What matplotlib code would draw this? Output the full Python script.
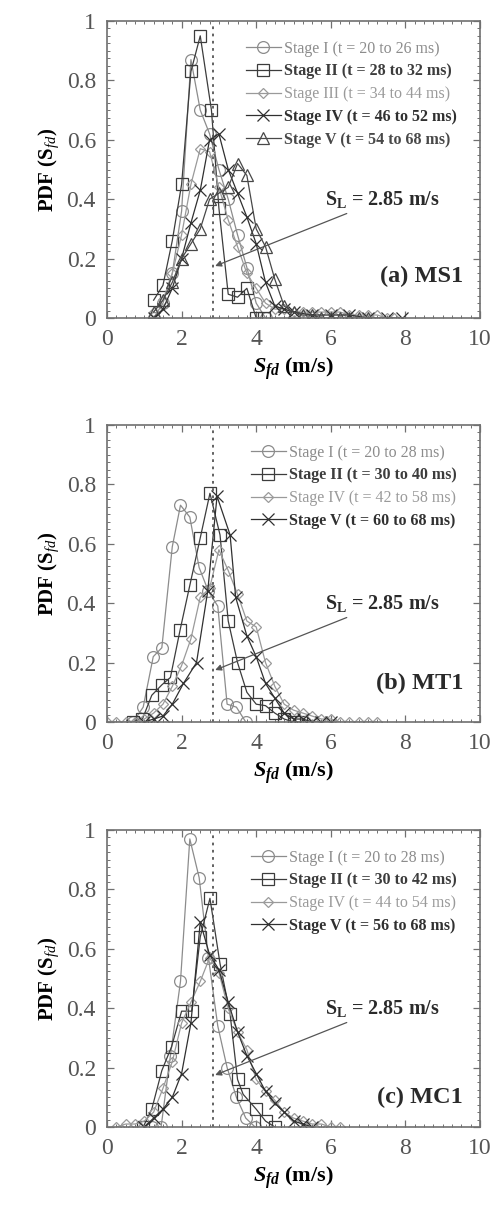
import matplotlib
matplotlib.use("Agg")
import matplotlib.pyplot as plt
from matplotlib.ticker import MultipleLocator, FormatStrFormatter

plt.rcParams['font.family'] = ['Liberation Serif', 'DejaVu Serif']
plt.rcParams['mathtext.fontset'] = 'custom'
plt.rcParams['mathtext.rm'] = 'Liberation Serif'
plt.rcParams['mathtext.it'] = 'Liberation Serif:italic'
plt.rcParams['mathtext.bf'] = 'Liberation Serif:bold'
plt.rcParams['mathtext.bfit'] = 'Liberation Serif:bold:italic'

# ---------------- Panel (a) MS1 ----------------
a_labels = ["Stage I (t = 20 to 26 ms)", "Stage II (t = 28 to 32 ms)",
            "Stage III (t = 34 to 44 ms)", "Stage IV (t = 46 to 52 ms)",
            "Stage V (t = 54 to 68 ms)"]
a1_x = [1.25, 1.5, 1.75, 2.0, 2.25, 2.5, 2.75, 3.0, 3.25, 3.5, 3.75, 4.0, 4.25]
a1_y = [0.0, 0.05, 0.15, 0.36, 0.87, 0.70, 0.62, 0.50, 0.40, 0.28, 0.17, 0.05, 0.0]
a2_x = [1.25, 1.5, 1.75, 2.0, 2.25, 2.5, 2.8, 3.0, 3.25, 3.5, 3.75, 4.0, 4.2]
a2_y = [0.06, 0.11, 0.26, 0.45, 0.83, 0.95, 0.70, 0.37, 0.08, 0.07, 0.10, 0.0, 0.0]
a3_x = [1.25, 1.5, 1.75, 2.0, 2.25, 2.5, 2.75, 3.0, 3.25, 3.5, 3.75, 4.0, 4.25, 4.5,
        4.75, 5.0, 5.25, 5.5, 5.75, 6.0, 6.25, 6.5, 6.75, 7.0, 7.25, 7.5, 7.7]
a3_y = [0.02, 0.06, 0.15, 0.28, 0.45, 0.57, 0.56, 0.44, 0.33, 0.24, 0.15, 0.10, 0.05, 0.03,
        0.03, 0.02, 0.02, 0.02, 0.02, 0.02, 0.02, 0.01, 0.01, 0.01, 0.01, 0.0, 0.0]
a4_x = [1.25, 1.5, 1.75, 2.0, 2.25, 2.5, 2.75, 3.0, 3.25, 3.5, 3.75, 4.0, 4.25, 4.5,
        4.75, 5.0, 5.5, 6.0, 6.5, 7.0, 7.5, 7.9]
a4_y = [0.0, 0.03, 0.10, 0.20, 0.32, 0.43, 0.60, 0.62, 0.50, 0.42, 0.34, 0.25, 0.12, 0.04,
        0.03, 0.02, 0.01, 0.01, 0.01, 0.0, 0.0, 0.0]
a5_x = [1.25, 1.5, 1.75, 2.0, 2.25, 2.5, 2.75, 3.0, 3.25, 3.5, 3.75, 4.0, 4.25, 4.5,
        4.75, 5.0, 5.25, 5.5, 5.75, 6.0, 6.25, 6.5, 6.75, 7.0]
a5_y = [0.02, 0.06, 0.12, 0.20, 0.25, 0.30, 0.40, 0.42, 0.44, 0.52, 0.48, 0.30, 0.24, 0.13,
        0.04, 0.02, 0.01, 0.01, 0.0, 0.0, 0.0, 0.0, 0.0, 0.0]

# ---------------- Panel (b) MT1 ----------------
b_labels = ["Stage I (t = 20 to 28 ms)", "Stage II (t = 30 to 40 ms)",
            "Stage IV (t = 42 to 58 ms)", "Stage V (t = 60 to 68 ms)"]
b1_x = [0.7, 0.97, 1.24, 1.47, 1.75, 1.97, 2.22, 2.47, 2.72, 2.97, 3.22, 3.47, 3.72]
b1_y = [0.0, 0.05, 0.22, 0.25, 0.59, 0.73, 0.69, 0.52, 0.44, 0.39, 0.06, 0.05, 0.0]
b2_x = [0.7, 0.95, 1.2, 1.47, 1.7, 1.96, 2.22, 2.5, 2.76, 3.03, 3.25, 3.5, 3.75, 4.0,
        4.25, 4.5, 4.75, 5.0, 5.2]
b2_y = [0.0, 0.01, 0.09, 0.125, 0.15, 0.31, 0.46, 0.62, 0.77, 0.63, 0.34, 0.20, 0.10, 0.06,
        0.055, 0.03, 0.01, 0.0, 0.0]
b3_x = [0.0, 0.25, 0.5, 0.75, 1.0, 1.25, 1.5, 1.75, 2.0, 2.25, 2.5, 2.75, 3.0, 3.25, 3.5,
        3.75, 4.0, 4.25, 4.5, 4.75, 5.0, 5.25, 5.5, 5.75, 6.0, 6.25, 6.5, 6.75, 7.0, 7.25]
b3_y = [0.0, 0.0, 0.0, 0.0, 0.01, 0.03, 0.06, 0.12, 0.19, 0.28, 0.42, 0.45, 0.58, 0.51, 0.43,
        0.34, 0.32, 0.20, 0.12, 0.06, 0.04, 0.03, 0.02, 0.01, 0.01, 0.0, 0.0, 0.0, 0.0, 0.0]
b4_x = [1.0, 1.25, 1.5, 1.75, 2.05, 2.4, 2.7, 2.95, 3.3, 3.45, 3.75, 4.0, 4.25, 4.5,
        4.75, 5.0, 5.25, 5.5, 5.75, 6.0]
b4_y = [0.0, 0.01, 0.02, 0.06, 0.13, 0.20, 0.44, 0.76, 0.63, 0.42, 0.29, 0.22, 0.13, 0.08,
        0.03, 0.01, 0.01, 0.0, 0.0, 0.0]

# ---------------- Panel (c) MC1 ----------------
c_labels = ["Stage I (t = 20 to 28 ms)", "Stage II (t = 30 to 42 ms)",
            "Stage IV (t = 44 to 54 ms)", "Stage V (t = 56 to 68 ms)"]
c1_x = [1.2, 1.45, 1.7, 1.97, 2.22, 2.47, 2.72, 2.97, 3.22, 3.47, 3.72, 3.97]
c1_y = [0.0, 0.0, 0.24, 0.49, 0.97, 0.84, 0.57, 0.34, 0.20, 0.10, 0.03, 0.0]
c2_x = [0.97, 1.2, 1.47, 1.73, 2.0, 2.27, 2.5, 2.76, 3.03, 3.3, 3.5, 3.65, 4.0, 4.25, 4.5]
c2_y = [0.0, 0.06, 0.19, 0.27, 0.39, 0.39, 0.64, 0.77, 0.55, 0.38, 0.16, 0.11, 0.06, 0.02, 0.0]
c3_x = [0.25, 0.5, 0.75, 1.0, 1.25, 1.5, 1.75, 2.0, 2.25, 2.5, 2.75, 3.0, 3.25, 3.5, 3.75,
        4.0, 4.25, 4.5, 4.75, 5.0, 5.25, 5.5, 5.75, 6.0, 6.25]
c3_y = [0.0, 0.01, 0.01, 0.02, 0.05, 0.13, 0.22, 0.35, 0.42, 0.49, 0.57, 0.52, 0.40, 0.32, 0.26,
        0.16, 0.12, 0.09, 0.05, 0.03, 0.02, 0.01, 0.01, 0.0, 0.0]
c4_x = [1.0, 1.25, 1.5, 1.75, 2.0, 2.25, 2.5, 2.75, 3.0, 3.25, 3.5, 3.75, 4.0, 4.25, 4.5,
        4.75, 5.0, 5.25, 5.5]
c4_y = [0.0, 0.03, 0.06, 0.10, 0.18, 0.35, 0.69, 0.58, 0.53, 0.42, 0.32, 0.24, 0.18, 0.12, 0.08,
        0.05, 0.02, 0.01, 0.0]

SL = 2.85

styles = {
    'I':   dict(marker='o', color='#8c8c8c', ms=8.5, bold=False),
    'II':  dict(marker='s', color='#3c3c3c', ms=8.5, bold=True),
    'III': dict(marker='D', color='#9a9a9a', ms=5.5, bold=False),
    'IV':  dict(marker='x', color='#303030', ms=9, bold=True),
    'V':   dict(marker='^', color='#484848', ms=8.5, bold=True),
}

panels = [
    dict(bottom=1 - 318 / 1206, tag='(a) MS1', tagy=0.14,
         series=[(a1_x, a1_y, 'I', a_labels[0]), (a2_x, a2_y, 'II', a_labels[1]),
                 (a3_x, a3_y, 'III', a_labels[2]), (a4_x, a4_y, 'IV', a_labels[3]),
                 (a5_x, a5_y, 'V', a_labels[4])]),
    dict(bottom=1 - 722 / 1206, tag='(b) MT1', tagy=0.13,
         series=[(b1_x, b1_y, 'I', b_labels[0]), (b2_x, b2_y, 'II', b_labels[1]),
                 (b3_x, b3_y, 'III', b_labels[2]), (b4_x, b4_y, 'IV', b_labels[3])]),
    dict(bottom=1 - 1127 / 1206, tag='(c) MC1', tagy=0.10,
         series=[(c1_x, c1_y, 'I', c_labels[0]), (c2_x, c2_y, 'II', c_labels[1]),
                 (c3_x, c3_y, 'III', c_labels[2]), (c4_x, c4_y, 'IV', c_labels[3])]),
]

fig = plt.figure(figsize=(4.99, 12.06), dpi=100)
axcol = '#707070'
ticklab = '#555555'

for p in panels:
    ax = fig.add_axes([107 / 499, p['bottom'], 373 / 499, 297 / 1206])
    handles = []
    bolds = []
    for xs, ys, key, lab in p['series']:
        st = styles[key]
        ln, = ax.plot(xs, ys, marker=st['marker'], color=st['color'], ms=st['ms'],
                      mfc='none', mec=st['color'], mew=0.9, lw=0.9, label=lab)
        handles.append(ln)
        bolds.append(st['bold'])
    ax.axvline(SL, color='#555555', ls=(0, (1.5, 2.5)), lw=1.3)
    ax.set_xlim(0, 10)
    ax.set_ylim(0, 1)
    ax.xaxis.set_major_locator(MultipleLocator(2))
    ax.xaxis.set_minor_locator(MultipleLocator(0.25))
    ax.yaxis.set_major_locator(MultipleLocator(0.2))
    ax.yaxis.set_minor_locator(MultipleLocator(0.025))
    ax.yaxis.set_major_formatter(FormatStrFormatter('%g'))
    ax.tick_params(which='both', direction='in', top=True, right=True,
                   color=axcol, labelcolor=ticklab, labelsize=17)
    ax.tick_params(which='major', length=5, width=0.9, pad=8)
    ax.tick_params(which='minor', length=2.5, width=0.7)
    for s in ax.spines.values():
        s.set_color(axcol)
        s.set_linewidth(1.2)
    ax.set_ylabel(r'PDF ($\mathbf{S}_{\mathit{fd}}$)', fontsize=15, fontweight='bold',
                  labelpad=4)
    ax.set_xlabel(r'$\mathbfit{S}_{\mathbfit{fd}}$ (m/s)', fontsize=16, fontweight='bold',
                  labelpad=4)
    leg = ax.legend(handles=handles, loc='upper right', bbox_to_anchor=(0.955, 0.955),
                    frameon=False, prop=dict(size=11.5, weight='bold'),
                    handlelength=2.2, handletextpad=0.2, labelspacing=0.42,
                    borderaxespad=0)
    for txt, h, b in zip(leg.get_texts(), handles, bolds):
        txt.set_color(h.get_color())
        txt.set_fontweight('bold' if b else 'normal')
    ax.annotate(r'S$_\mathbf{L}$ = 2.85 m/s', xy=(2.9, 0.175), xytext=(5.85, 0.40),
                fontsize=14.5, fontweight='bold', color='#2a2a2a', va='center', ha='left',
                arrowprops=dict(arrowstyle='-|>', color='#555555', lw=0.9,
                                mutation_scale=9, shrinkA=2, shrinkB=0))
    ax.text(9.55, p['tagy'], p['tag'], fontsize=17.5, fontweight='bold', color='#2a2a2a',
            ha='right', va='center')

fig.savefig('out.png', dpi=100)
